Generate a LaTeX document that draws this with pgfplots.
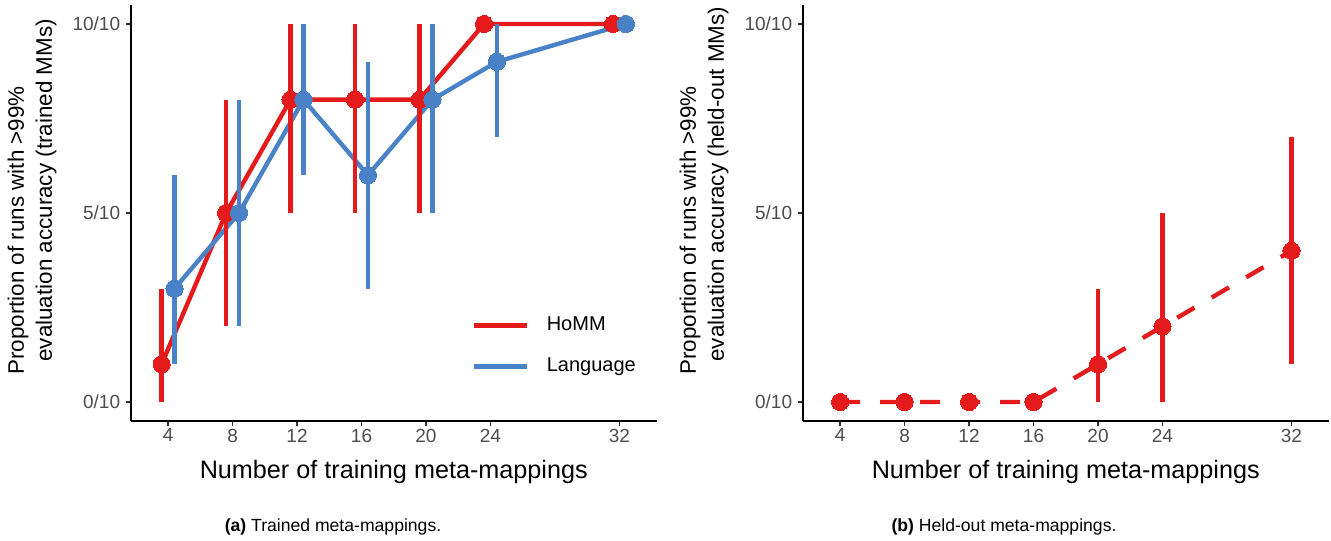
\documentclass[border=0pt]{standalone}
\usepackage{fontspec}
\setmainfont{Liberation Sans}
\usepackage{pgfplots}
\pgfplotsset{compat=1.18}
\usepackage{pgfplotstable}
\definecolor{cred}{HTML}{E41A1C}
\definecolor{cblue}{HTML}{4A82C8}
\definecolor{tickgray}{HTML}{4D4D4D}
\definecolor{tickmark}{HTML}{333333}

% HoMM, trained meta-mappings (dodged left by 0.4)
\pgfplotstableread{
x y ep em
3.6 1 2 1
7.6 5 3 3
11.6 8 2 3
15.6 8 2 3
19.6 8 2 3
23.6 10 0 0
31.6 10 0 0
}\hommtrained
% Language, trained meta-mappings (dodged right by 0.4)
\pgfplotstableread{
x y ep em
4.4 3 3 2
8.4 5 3 3
12.4 8 2 2
16.4 6 3 3
20.4 8 2 3
24.4 9 1 2
32.4 10 0 0
}\langtrained
% HoMM, held-out meta-mappings
\pgfplotstableread{
x y ep em
4 0 0 0
8 0 0 0
12 0 0 0
16 0 0 0
20 1 2 1
24 2 3 2
32 4 3 3
}\hommheld

\pgfplotsset{
  panel/.style={
    scale only axis,
    width=262.75pt, height=207.9pt,
    anchor=south west,
    xmin=1.7, xmax=34.3, ymin=-0.5, ymax=10.5,
    axis lines=left,
    axis line style={-, line width=0.75pt, black},
    tick align=outside,
    major tick length=2.75pt,
    tick style={line width=0.6pt, color=tickmark},
    xtick={4,8,12,16,20,24,32},
    xticklabels={4,8,12,16,20,24,32},
    ytick={0,5,10},
    yticklabels={0/10,5/10,10/10},
    xticklabel style={font=\fontsize{9.5}{11}\selectfont, text=tickgray, anchor=north, inner sep=0pt, yshift=-1pt},
    yticklabel style={font=\fontsize{9.5}{11}\selectfont, text=tickgray, anchor=east, inner sep=0pt, xshift=-2.5pt},
    every axis x label/.style={at={([yshift=-28.55pt]axis description cs:0.5,0)}, anchor=base, inner sep=0pt, font=\fontsize{12.6}{15}\selectfont},
    every axis y label/.style={at={([xshift=-37pt,yshift=22.95pt]axis description cs:0,0)}, anchor=south west, rotate=90, align=left, inner sep=0pt, font=\fontsize{11.2}{14}\selectfont},
    clip=false,
    xlabel={Number of training meta-mappings},
  },
  ebars/.style={
    error bars/y dir=both, error bars/y explicit,
    error bars/error bar style={line width=2.2pt, solid, #1},
    error bars/error mark=none,
  },
}

\begin{document}
\begin{tikzpicture}
\path[use as bounding box] (0pt,0pt) rectangle (665.5pt,270pt);

\begin{axis}[panel, at={(65.5pt,59.55pt)},
  ylabel={Proportion of runs with >99\%\\\hspace*{6.5pt}evaluation accuracy (trained MMs)},
  legend style={at={(axis cs:22.42,2.36)}, anchor=north west, draw=none, fill=none,
    font=\fontsize{10}{12}\selectfont, row sep=12pt, column sep=9pt,
    nodes={inner sep=0pt}},
  legend cell align=left,
  legend image code/.code={\draw[#1] (0pt,0pt) -- (26.5pt,0pt);},
]
\addplot[cred, line width=2.2pt, forget plot] table[x=x,y=y] {\hommtrained};
\addplot[cblue, line width=2.2pt, forget plot] table[x=x,y=y] {\langtrained};
\addplot[cred, only marks, mark=*, mark size=4.3pt, mark options={fill=cred, draw=cred, line width=0pt}, forget plot, ebars=cred]
  table[x=x, y=y, y error plus=ep, y error minus=em] {\hommtrained};
\addplot[cblue, only marks, mark=*, mark size=4.3pt, mark options={fill=cblue, draw=cblue, line width=0pt}, forget plot, ebars=cblue]
  table[x=x, y=y, y error plus=ep, y error minus=em] {\langtrained};
\addlegendimage{cred, line width=2.2pt}
\addlegendentry{HoMM}
\addlegendimage{cblue, line width=2.2pt}
\addlegendentry{Language}
\end{axis}

\begin{axis}[panel, at={(401.5pt,59.55pt)},
  ylabel={Proportion of runs with >99\%\\\hspace*{6.5pt}evaluation accuracy (held-out MMs)},
]
\addplot[cred, line width=2.2pt, dash pattern=on 10pt off 10pt, forget plot] table[x=x,y=y] {\hommheld};
\addplot[cred, only marks, mark=*, mark size=4.3pt, mark options={fill=cred, draw=cred, line width=0pt, solid}, forget plot, ebars=cred]
  table[x=x, y=y, y error plus=ep, y error minus=em] {\hommheld};
\end{axis}

\node[anchor=base, inner sep=0pt, font=\fontsize{8.8}{10}\selectfont] at (166.5pt,4.25pt) {\textbf{(a)} Trained meta-mappings.};
\node[anchor=base, inner sep=0pt, font=\fontsize{8.8}{10}\selectfont] at (502pt,4.25pt) {\textbf{(b)} Held-out meta-mappings.};
\end{tikzpicture}
\end{document}
